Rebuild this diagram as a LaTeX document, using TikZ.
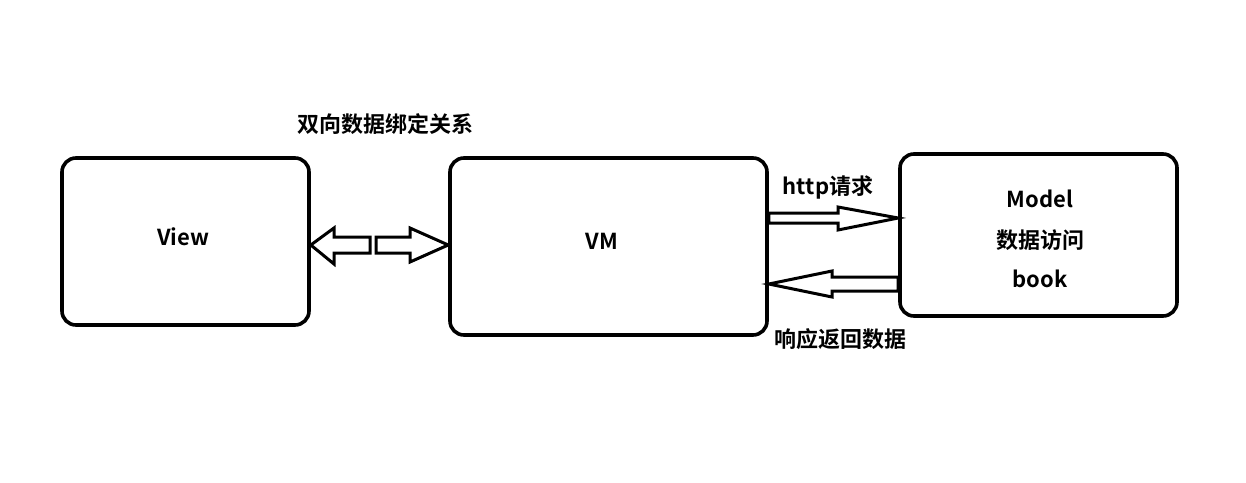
\documentclass[tikz,border=0pt]{standalone}
\usepackage{fontspec}
\setmainfont{Noto Sans CJK SC}[BoldFont={* Bold}]
\usetikzlibrary{calc}
\begin{document}
\begin{tikzpicture}[x=1pt,y=-1pt,
  box/.style={draw=black, line width=3.6pt, rounded corners=14pt, fill=white},
  lbl/.style={font=\fontsize{22}{26}\selectfont\bfseries, inner sep=0pt},
  blk/.style={draw=black, line width=3pt, fill=white, line join=miter}]
\useasboundingbox (0,0) rectangle (1246,482);
\fill[white] (0,0) rectangle (1246,482);
% boxes
\node[box, minimum width=247pt, minimum height=167pt] (view) at (185.5,241.5) {};
\node[box, minimum width=317pt, minimum height=177pt] (vm) at (608.5,246.5) {};
\node[box, minimum width=277pt, minimum height=162pt] (model) at (1038.5,235) {};
% texts
\node[lbl] (tview) at (183,237) {View};
\node[lbl] (tvm) at (602,241) {VM};
\node[lbl] (tm1) at (1040,199) {Model};
\node[lbl] (tm2) at (1040,240) {数据访问};
\node[lbl] (tm3) at (1040,279) {book};
\node[lbl] (tbind) at (385,124) {双向数据绑定关系};
\node[lbl] (thttp) at (828,187) {http请求};
\node[lbl] (tresp) at (840,339) {响应返回数据};
% bidirectional block arrows between View and VM
\draw[blk] (view.east |- 0,245) -- (334,228) -- (334,237) -- (370,237) -- (370,253) -- (334,253) -- (334,264) -- cycle;
\draw[blk] (vm.west |- 0,245) -- (410,228) -- (410,237) -- (376,237) -- (376,253) -- (410,253) -- (410,262) -- cycle;
% http request arrow
\draw[blk] (model.west |- 0,218) -- (838,207) -- (838,213) -- (vm.east |- 0,213) -- (vm.east |- 0,223) -- (838,223) -- (838,230) -- cycle;
% response arrow
\draw[blk] (vm.east |- 0,284) -- (832,271) -- (832,277) -- (model.west |- 0,277) -- (model.west |- 0,291) -- (832,291) -- (832,297) -- cycle;
\end{tikzpicture}
\end{document}
